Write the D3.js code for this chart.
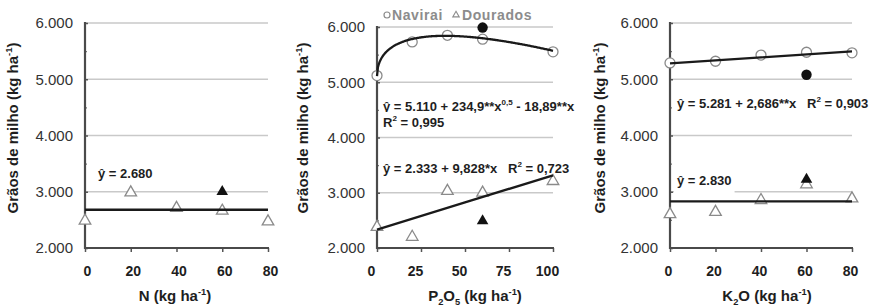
<!DOCTYPE html>
<html>
<head>
<meta charset="utf-8">
<script src="https://cdn.jsdelivr.net/npm/d3@7"></script>
<style>
  body { margin: 0; background: #fff; }
  svg { display: block; font-family: "Liberation Sans", Arial, sans-serif; }
  text { white-space: pre; }
</style>
</head>
<body>
<svg id="chart" width="874" height="307"></svg>
<script>
// ---- data ----
var yTicks = [2000, 3000, 4000, 5000, 6000];
var yMinor = [2500, 3500, 4500, 5500];

// N panel (Dourados only)
var nDoses = [0, 20, 40, 60, 80];
var nDourados = [2485, 2985, 2710, 2660, 2470];
var nDouradosFilled = [[60, 3000]];
var nFit = 2680;

// P2O5 panel
var pTicks = [0, 25, 50, 75, 100];
var pDoses = [0, 20, 40, 60, 100];
var pNavirai = [5120, 5730, 5850, 5780, 5550];
var pDourados = [2380, 2200, 3030, 3000, 3210];
var pNaviraiFilled = [[60, 5990]];
var pDouradosFilled = [[60, 2490]];
var pNavCoef = [5110, 234.9, -18.89];   // a + b*x^0.5 + c*x
var pDouCoef = [2333, 9.828];

// K2O panel
var kDoses = [0, 20, 40, 60, 80];
var kNavirai = [5290, 5320, 5430, 5480, 5470];
var kDourados = [2600, 2640, 2850, 3130, 2880];
var kNaviraiFilled = [[60, 5080]];
var kDouradosFilled = [[60, 3220]];
var kNavCoef = [5281, 2.686];
var kFit = 2830;

var fmt = d3.formatLocale({decimal: ",", thousands: ".", grouping: [3], currency: ["", ""]}).format(",");
var svg = d3.select("#chart");

//writes a text made of plain / sup / sub pieces
function richText(sel, segs){
	var shift = 0;
	segs.forEach(function(s){
		var target = s[1] === "sup" ? -6 : (s[1] === "sub" ? 4 : 0);
		var t = sel.append("tspan").attr("dy", target - shift).text(s[0]);
		if(s[1]) t.attr("font-size", "0.62em");
		shift = target;
	});
	return sel;
}

function line(x0, x1, f, n){
	var pts = d3.range(n + 1).map(function(i){ var x = x0 + (x1 - x0) * i / n; return [x, f(x)]; });
	return pts;
}

var panels = [
	{left: 85, right: 268, top: 23, bottom: 248, xDomain: [0, 80], xTicks: nDoses, labelDx: 2, yTitleX: 18,
	 xTitle: [["N (kg ha"], ["-1", "sup"], [")"]], xTitleX: 175,
	 open: [{x: nDoses, y: nDourados, shape: "tri"}],
	 filled: [{pts: nDouradosFilled, shape: "tri"}],
	 fits: [line(0, 80, function(){ return nFit; }, 2)],
	 eqs: [{x: 98, y: 178, segs: [["ŷ = 2.680"]]}]},
	{left: 377, right: 553, top: 27, bottom: 248, xDomain: [0, 100], xTicks: pTicks, labelDx: -6, yTitleX: 308,
	 xTitle: [["P"], ["2", "sub"], ["O"], ["5", "sub"], [" (kg ha"], ["-1", "sup"], [")"]], xTitleX: 475,
	 open: [{x: pDoses, y: pNavirai, shape: "circle"}, {x: pDoses, y: pDourados, shape: "tri"}],
	 filled: [{pts: pNaviraiFilled, shape: "circle"}, {pts: pDouradosFilled, shape: "tri"}],
	 fits: [line(0, 100, function(x){ return pNavCoef[0] + pNavCoef[1] * Math.sqrt(x) + pNavCoef[2] * x; }, 200),
	        line(0, 100, function(x){ return pDouCoef[0] + pDouCoef[1] * x; }, 2)],
	 eqs: [{x: 383, y: 111, segs: [["ŷ = 5.110 + 234,9**x"], ["0,5", "sup"], [" - 18,89**x"]]},
	       {x: 383, y: 127, segs: [["R"], ["2", "sup"], [" = 0,995"]]},
	       {x: 383, y: 173, segs: [["ŷ = 2.333 + 9,828*x   R"], ["2", "sup"], [" = 0,723"]]}],
	 legend: true},
	{left: 670, right: 852, top: 23, bottom: 248, xDomain: [0, 80], xTicks: kDoses, labelDx: -2, yTitleX: 605,
	 xTitle: [["K"], ["2", "sub"], ["O (kg ha"], ["-1", "sup"], [")"]], xTitleX: 767,
	 open: [{x: kDoses, y: kNavirai, shape: "circle"}, {x: kDoses, y: kDourados, shape: "tri"}],
	 filled: [{pts: kNaviraiFilled, shape: "circle"}, {pts: kDouradosFilled, shape: "tri"}],
	 fits: [line(0, 80, function(x){ return kNavCoef[0] + kNavCoef[1] * x; }, 2),
	        line(0, 80, function(){ return kFit; }, 2)],
	 eqs: [{x: 677, y: 108, segs: [["ŷ = 5.281 + 2,686**x   R"], ["2", "sup"], [" = 0,903"]]},
	       {x: 677, y: 185, segs: [["ŷ = 2.830"]]}]}
];

var triangle = d3.symbol().type(d3.symbolTriangle).size(58);

panels.forEach(function(p){
	var x = d3.scaleLinear().domain(p.xDomain).range([p.left, p.right]);
	var y = d3.scaleLinear().domain([2000, 6000]).range([p.bottom, p.top]);
	var g = svg.append("g");

	//gridlines
	g.selectAll(".grid").data(yTicks.slice(1)).enter().append("line")
		.attr("x1", p.left).attr("x2", p.right)
		.attr("y1", function(d){ return y(d); }).attr("y2", function(d){ return y(d); })
		.style("stroke", "#c9c9c9").style("stroke-width", 1.4);

	//equation boxes + texts (white box hides grid behind)
	p.eqs.forEach(function(e){
		var t = richText(g.append("text").attr("x", e.x).attr("y", e.y)
			.style("font-size", "13px").style("font-weight", "bold").style("fill", "#1e1e1e"), e.segs);
		var bb = t.node().getBBox();
		g.insert("rect", function(){ return t.node(); })
			.attr("x", bb.x - 3).attr("y", bb.y - 2).attr("width", bb.width + 6).attr("height", bb.height + 7)
			.style("fill", "#fff");
	});

	//y axis
	var ya = g.append("g").attr("transform", "translate(" + p.left + ",0)")
		.call(d3.axisLeft(y).tickValues(yTicks).tickSize(3).tickPadding(9).tickFormat(fmt));
	ya.select(".domain").remove();
	ya.selectAll(".tick line").attr("x2", 3).style("stroke", "#555").style("stroke-width", 1.5);
	ya.selectAll("text").style("font-size", "15px").style("fill", "#333").style("font-family", "inherit");
	var ym = g.append("g").attr("transform", "translate(" + p.left + ",0)")
		.call(d3.axisLeft(y).tickValues(yMinor).tickSize(3).tickFormat(""));
	ym.select(".domain").remove();
	ym.selectAll(".tick line").attr("x2", 2).style("stroke", "#777").style("stroke-width", 1.2);
	g.append("line").attr("x1", p.left).attr("x2", p.left).attr("y1", p.top - 1).attr("y2", p.bottom + 1)
		.style("stroke", "#4a4a4a").style("stroke-width", 2.2);

	//x axis
	var xa = g.append("g").attr("transform", "translate(0," + p.bottom + ")")
		.call(d3.axisBottom(x).tickValues(p.xTicks).tickSize(4).tickPadding(14));
	xa.select(".domain").remove();
	xa.selectAll(".tick line").style("stroke", "#555").style("stroke-width", 1.5);
	xa.selectAll("text").attr("dx", p.labelDx).style("font-size", "14px").style("font-weight", "bold")
		.style("fill", "#1e1e1e").style("font-family", "inherit");
	g.append("line").attr("x1", p.left).attr("x2", p.right + 1).attr("y1", p.bottom).attr("y2", p.bottom)
		.style("stroke", "#4a4a4a").style("stroke-width", 2.2);

	//titles
	richText(g.append("text").attr("x", p.xTitleX).attr("y", 301).attr("text-anchor", "middle")
		.style("font-size", "15px").style("font-weight", "bold").style("fill", "#1e1e1e"), p.xTitle);
	richText(g.append("text").attr("transform", "translate(" + p.yTitleX + ",128) rotate(-90)")
		.attr("text-anchor", "middle").attr("dy", "0.35em")
		.style("font-size", "15px").style("font-weight", "bold").style("fill", "#1e1e1e"),
		[["Grãos de milho (kg ha"], ["-1", "sup"], [")"]]);

	//open markers
	p.open.forEach(function(s){
		var pts = s.x.map(function(d, i){ return [d, s.y[i]]; });
		var m = g.selectAll(null).data(pts).enter();
		if(s.shape === "circle"){
			m.append("circle").attr("cx", function(d){ return x(d[0]); }).attr("cy", function(d){ return y(d[1]); })
				.attr("r", 5).style("fill", "#fff").style("stroke", "#8a8a8a").style("stroke-width", 1.3);
		} else {
			m.append("path").attr("d", triangle)
				.attr("transform", function(d){ return "translate(" + x(d[0]) + "," + y(d[1]) + ")"; })
				.style("fill", "#fff").style("stroke", "#8a8a8a").style("stroke-width", 1.3);
		}
	});

	//fitted lines
	p.fits.forEach(function(f){
		g.append("path").datum(f)
			.attr("d", d3.line().x(function(d){ return x(d[0]); }).y(function(d){ return y(d[1]); }))
			.style("fill", "none").style("stroke", "#1a1a1a").style("stroke-width", 2.3);
	});

	//filled markers
	p.filled.forEach(function(s){
		var m = g.selectAll(null).data(s.pts).enter();
		if(s.shape === "circle"){
			m.append("circle").attr("cx", function(d){ return x(d[0]); }).attr("cy", function(d){ return y(d[1]); })
				.attr("r", 5.2).style("fill", "#111");
		} else {
			m.append("path").attr("d", triangle)
				.attr("transform", function(d){ return "translate(" + x(d[0]) + "," + y(d[1]) + ")"; })
				.style("fill", "#111");
		}
	});

	if(p.legend){
		var lg = g.append("g").style("font-size", "14px").style("font-weight", "bold").style("fill", "#8c8c8c");
		lg.append("circle").attr("cx", 387).attr("cy", 15).attr("r", 3)
			.style("fill", "#fff").style("stroke", "#8c8c8c").style("stroke-width", 1.2);
		lg.append("text").attr("x", 392).attr("y", 20).style("letter-spacing", "0.6px").text("Navirai");
		lg.append("path").attr("d", d3.symbol().type(d3.symbolTriangle).size(18))
			.attr("transform", "translate(456,15)")
			.style("fill", "#fff").style("stroke", "#8c8c8c").style("stroke-width", 1.1);
		lg.append("text").attr("x", 462).attr("y", 20).style("letter-spacing", "0.6px").text("Dourados");
	}
});
</script>
</body>
</html>
